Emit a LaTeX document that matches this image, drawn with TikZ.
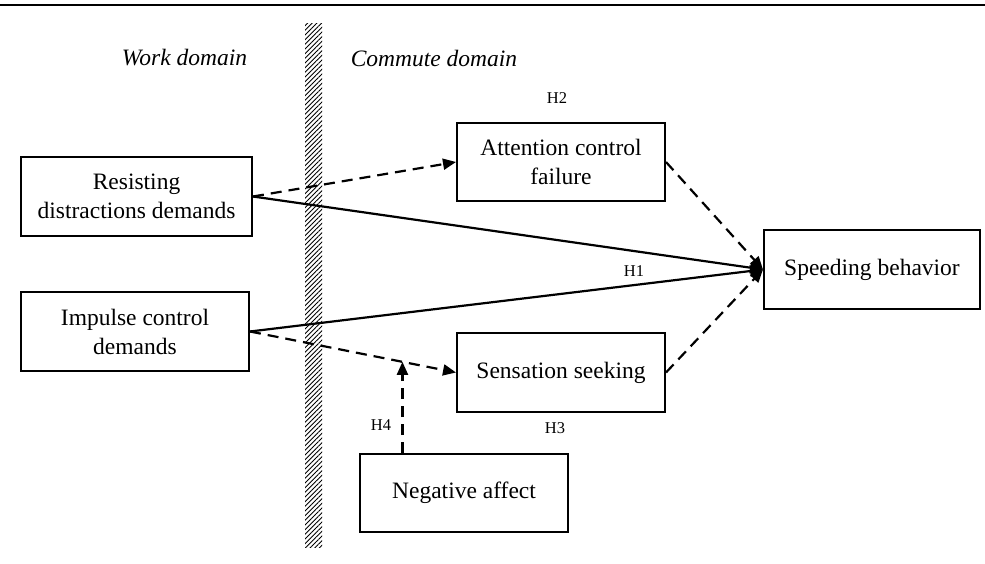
\documentclass[tikz,border=0pt]{standalone}
\usepackage{fontspec}
\setmainfont{Liberation Serif}
\usetikzlibrary{arrows.meta,calc,patterns.meta}

\tikzset{
  box/.style={draw, line width=2pt, align=center, inner sep=0pt,
    font=\fontsize{23.5}{29}\selectfont},
  hyp/.style={font=\fontsize{16.5}{20}\selectfont},
  dom/.style={font=\fontsize{23.5}{29}\selectfont\itshape},
  link/.style={line width=2.2pt, -{Triangle[length=13pt,width=11pt]}},
  dlink/.style={link, dash pattern=on 11pt off 7pt}
}

\begin{document}
\begin{tikzpicture}[x=1pt, y=-1pt]
\useasboundingbox (0,0) rectangle (985,564);
\draw[line width=2.6pt] (0,5)--(985,5);
\fill[pattern={Lines[angle=45,distance=3.3pt,line width=0.9pt]}] (305,24) rectangle (322,547);
\node[dom] (work) at (184.5,58) {Work domain};
\node[dom] (comm) at (434,58) {Commute domain};
\node[box, minimum width=231pt, minimum height=79pt] (res) at (136.5,196.5) {Resisting\\distractions demands};
\node[box, minimum width=228pt, minimum height=79pt] (imp) at (135,331.5) {Impulse control\\demands};
\node[box, minimum width=208pt, minimum height=78pt] (att) at (561,162) {Attention control\\failure};
\node[box, minimum width=208pt, minimum height=79pt] (sens) at (561,372.5) {Sensation seeking};
\node[box, minimum width=216pt, minimum height=79pt] (speed) at (872,269.5) {Speeding behavior};
\node[box, minimum width=208pt, minimum height=78pt] (neg) at (464,493) {Negative affect};
\node[hyp] (h1) at (634,271) {H1};
\node[hyp] (h2) at (557,98) {H2};
\node[hyp] (h3) at (555,428) {H3};
\node[hyp] (h4) at (381,425) {H4};
\coordinate (hit) at ($(imp.east)!0.74!(sens.west)$);
\draw[dlink] (res.east)--(att.west);
\draw[link] (res.east)--(speed.west);
\draw[link] (imp.east)--(speed.west);
\draw[dlink] (imp.east)--(sens.west);
\draw[dlink] (att.east)--(speed.west);
\draw[dlink] (sens.east)--(speed.west);
\draw[dlink] (neg.north -| hit)--(hit);
\end{tikzpicture}
\end{document}
